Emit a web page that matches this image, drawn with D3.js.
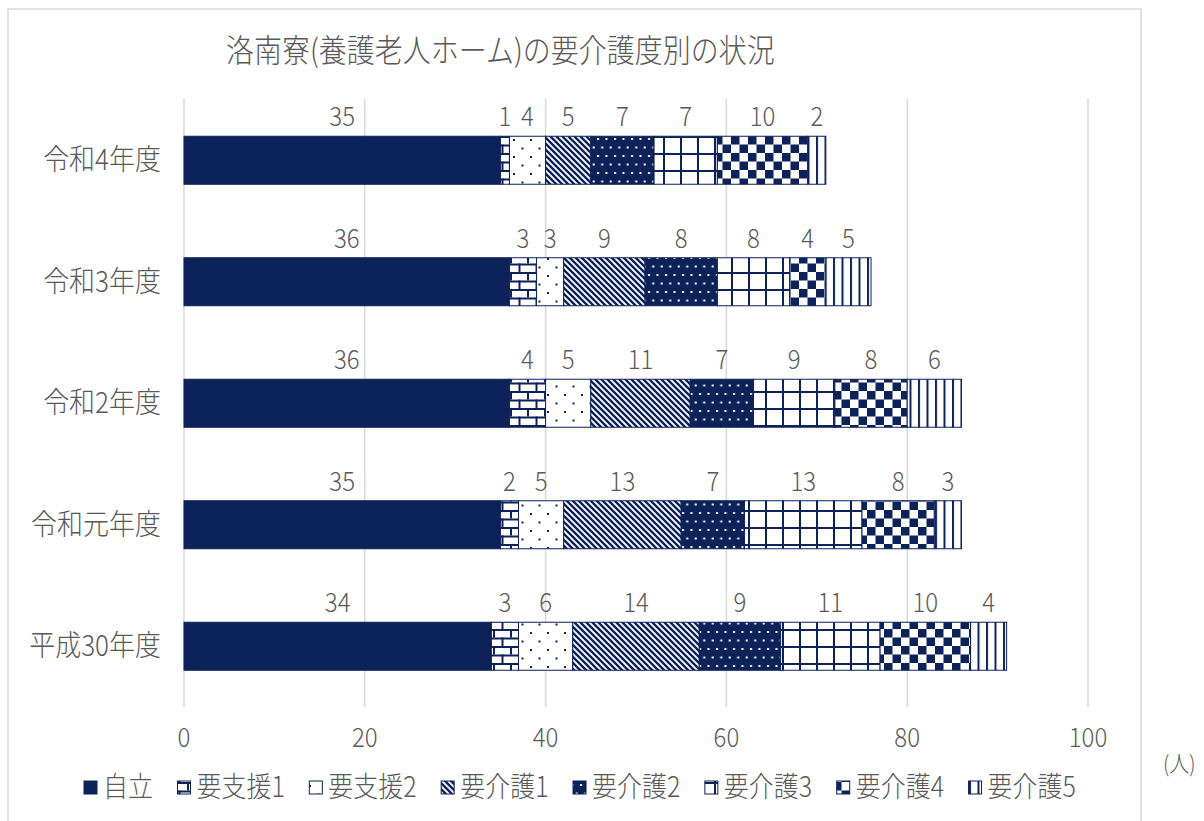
<!DOCTYPE html>
<html>
<head>
<meta charset="utf-8">
<script src="https://cdn.jsdelivr.net/npm/d3@7"></script>
<style>
  body { margin: 0; background: #fff; }
  svg text { font-family: "Noto Sans CJK JP", "Noto Sans", sans-serif; fill: #595959; font-weight: 300; }
</style>
</head>
<body>
<svg id="chart" width="1204" height="821"></svg>
<script>
/*=================
=== Data
=================*/
var categories = ['令和4年度', '令和3年度', '令和2年度', '令和元年度', '平成30年度'];
var seriesNames = ['自立', '要支援1', '要支援2', '要介護1', '要介護2', '要介護3', '要介護4', '要介護5'];

var jiritsu  = [35, 36, 36, 35, 34];
var shien1   = [1, 3, 4, 2, 3];
var shien2   = [4, 3, 5, 5, 6];
var kaigo1   = [5, 9, 11, 13, 14];
var kaigo2   = [7, 8, 7, 7, 9];
var kaigo3   = [7, 8, 9, 13, 11];
var kaigo4   = [10, 4, 8, 8, 10];
var kaigo5   = [2, 5, 6, 3, 4];

var xTicks = [0, 20, 40, 60, 80, 100];

var seriesValues = [jiritsu, shien1, shien2, kaigo1, kaigo2, kaigo3, kaigo4, kaigo5];

var navy = '#0d2259';
var tall = 1.12; // the original font is a bit taller than it is wide

// rows for d3.stack
var rows = categories.map((c, i) => {
	var r = { cat: c };
	seriesNames.forEach((s, j) => { r[s] = seriesValues[j][i]; });
	return r;
});

function place(px, py) {
	return `translate(${px},${py}) scale(1,${tall})`;
}

/*=================
=== Setup
=================*/
var svg = d3.select('#chart');

// chart frame
svg.append('rect')
	.attr('x', 8).attr('y', 9)
	.attr('width', 1133).attr('height', 830)
	.attr('fill', 'none')
	.attr('stroke', '#d9d9d9')
	.attr('stroke-width', 1.5);

var x = d3.scaleLinear().domain([0, 100]).range([184, 1088]);
var y = d3.scaleBand().domain(categories).range([99.5, 707]).paddingInner(0.605).paddingOuter(0.3025);

/*=================
=== Patterns
=================*/
var defs = svg.append('defs');

function makePattern(id, w, h, bg) {
	var p = defs.append('pattern')
		.attr('id', id)
		.attr('patternUnits', 'userSpaceOnUse')
		.attr('width', w).attr('height', h);
	p.append('rect').attr('width', w).attr('height', h).attr('fill', bg);
	return p;
}

// brick
var pBrick = makePattern('p1', 17, 17, '#fff');
pBrick.append('rect').attr('x', 0).attr('y', 0).attr('width', 17).attr('height', 2).attr('fill', navy);
pBrick.append('rect').attr('x', 0).attr('y', 8.5).attr('width', 17).attr('height', 2).attr('fill', navy);
pBrick.append('rect').attr('x', 0).attr('y', 0).attr('width', 2).attr('height', 8.5).attr('fill', navy);
pBrick.append('rect').attr('x', 8.5).attr('y', 8.5).attr('width', 2).attr('height', 8.5).attr('fill', navy);

// sparse dots
var pDots = makePattern('p2', 17, 17, '#fff');
pDots.append('rect').attr('x', 3).attr('y', 3).attr('width', 2).attr('height', 2).attr('fill', navy);
pDots.append('rect').attr('x', 11.5).attr('y', 11.5).attr('width', 2).attr('height', 2).attr('fill', navy);

// downward diagonal
var pDiag = makePattern('p3', 6, 6, '#fff');
pDiag.append('path')
	.attr('d', 'M-1,-1L7,7M-1,5L1,7M5,-1L7,1')
	.attr('stroke', navy)
	.attr('stroke-width', 2.4);

// navy with white dots
var pDark = makePattern('p4', 8.5, 17, navy);
pDark.append('rect').attr('x', 2).attr('y', 2).attr('width', 2).attr('height', 2).attr('fill', '#fff');
pDark.append('rect').attr('x', 6.25).attr('y', 10.5).attr('width', 2).attr('height', 2).attr('fill', '#fff');

// grid
var pGrid = makePattern('p5', 17, 17, '#fff');
pGrid.append('rect').attr('x', 0).attr('y', 0).attr('width', 17).attr('height', 2).attr('fill', navy);
pGrid.append('rect').attr('x', 0).attr('y', 0).attr('width', 2).attr('height', 17).attr('fill', navy);

// checkerboard
var pCheck = makePattern('p6', 17, 17, '#fff');
pCheck.append('rect').attr('x', 0).attr('y', 0).attr('width', 8.5).attr('height', 8.5).attr('fill', navy);
pCheck.append('rect').attr('x', 8.5).attr('y', 8.5).attr('width', 8.5).attr('height', 8.5).attr('fill', navy);

// vertical lines
var pVert = makePattern('p7', 8.5, 8.5, '#fff');
pVert.append('rect').attr('x', 0).attr('y', 0).attr('width', 2).attr('height', 8.5).attr('fill', navy);

var fills = [navy, 'url(#p1)', 'url(#p2)', 'url(#p3)', 'url(#p4)', 'url(#p5)', 'url(#p6)', 'url(#p7)'];

/*=================
=== Grid + axis
=================*/
svg.append('g')
	.selectAll('line')
	.data(xTicks)
	.enter()
	.append('line')
	.attr('x1', d => x(d)).attr('x2', d => x(d))
	.attr('y1', 99).attr('y2', 707)
	.attr('stroke', '#d9d9d9')
	.attr('stroke-width', 1.5);

svg.append('g')
	.selectAll('text')
	.data(xTicks)
	.enter()
	.append('text')
	.attr('transform', d => place(x(d), 747))
	.attr('text-anchor', 'middle')
	.style('font-size', '24px')
	.text(d => d);

svg.append('g')
	.selectAll('text')
	.data(categories)
	.enter()
	.append('text')
	.attr('transform', d => place(161, y(d) + y.bandwidth() / 2 + 10))
	.attr('text-anchor', 'end')
	.style('font-size', '26px')
	.text(d => d);

/*=================
=== Bars
=================*/
var stack = d3.stack().keys(seriesNames)(rows);

var layers = svg.append('g')
	.selectAll('g')
	.data(stack)
	.enter()
	.append('g')
	.attr('fill', (d, i) => fills[i]);

layers.selectAll('rect')
	.data(d => d)
	.enter()
	.append('rect')
	.attr('x', d => x(d[0]))
	.attr('y', d => y(d.data.cat))
	.attr('width', d => x(d[1]) - x(d[0]))
	.attr('height', y.bandwidth())
	.attr('stroke', navy)
	.attr('stroke-width', 1);

// value labels above segments
layers.selectAll('text')
	.data(d => d)
	.enter()
	.append('text')
	.attr('transform', d => place(x((d[0] + d[1]) / 2), y(d.data.cat) - 10))
	.attr('text-anchor', 'middle')
	.style('font-size', '24px')
	.text(d => d[1] - d[0]);

/*=================
=== Title, unit, legend
=================*/
svg.append('text')
	.attr('transform', place(226, 62))
	.style('font-size', '28px')
	.text('洛南寮(養護老人ホーム)の要介護度別の状況');

svg.append('text')
	.attr('transform', place(1163, 772))
	.style('font-size', '20px')
	.text('(人)');

var legend = svg.append('g');
var lx = 84;
seriesNames.forEach((name, i) => {
	legend.append('rect')
		.attr('x', lx).attr('y', 781)
		.attr('width', 13).attr('height', 13)
		.attr('fill', fills[i])
		.attr('stroke', navy)
		.attr('stroke-width', 1);
	var t = legend.append('text')
		.attr('transform', place(lx + 19, 797))
		.style('font-size', '25px')
		.text(name);
	lx += 19 + t.node().getComputedTextLength() + 24.5;
});
</script>
</body>
</html>
